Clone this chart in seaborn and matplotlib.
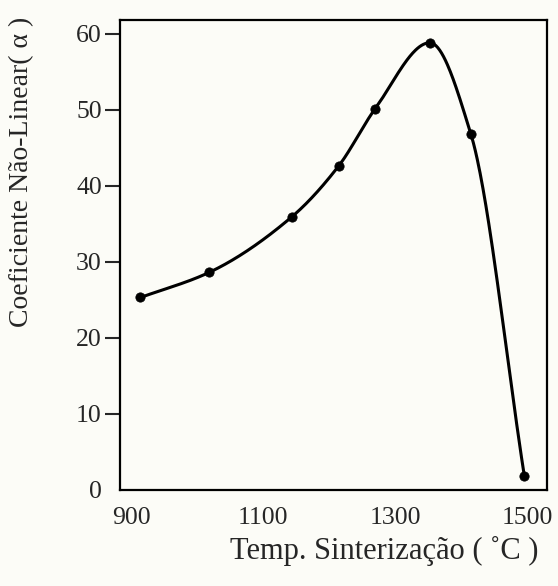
import numpy as np
import pandas as pd
import matplotlib
matplotlib.use("Agg")
import matplotlib.pyplot as plt
import seaborn as sns

# dados
temperaturas = [914, 1018, 1143, 1214, 1269, 1352, 1414, 1495]
coeficientes = [25.3, 28.6, 35.9, 42.6, 50.1, 58.8, 46.8, 1.8]
yticks = [0, 10, 20, 30, 40, 50, 60]
xticks = [900, 1100, 1300, 1500]


def pchip(x, y, xs):
    # interpolação cúbica monotônica (tipo PCHIP) só para desenhar a curva suave
    x = np.asarray(x, float)
    y = np.asarray(y, float)
    h = np.diff(x)
    d = np.diff(y) / h
    n = len(x)
    m = np.zeros(n)
    for k in range(1, n - 1):
        if d[k - 1] * d[k] > 0:
            w1 = 2 * h[k] + h[k - 1]
            w2 = h[k] + 2 * h[k - 1]
            m[k] = (w1 + w2) / (w1 / d[k - 1] + w2 / d[k])
    m[0] = d[0]
    m[-1] = d[-1]
    idx = np.clip(np.searchsorted(x, xs) - 1, 0, n - 2)
    t = (xs - x[idx]) / h[idx]
    h00 = 2 * t**3 - 3 * t**2 + 1
    h10 = t**3 - 2 * t**2 + t
    h01 = -2 * t**3 + 3 * t**2
    h11 = t**3 - t**2
    return (h00 * y[idx] + h10 * h[idx] * m[idx] + h01 * y[idx + 1]
            + h11 * h[idx] * m[idx + 1])


df = pd.DataFrame({"temp": temperaturas, "alfa": coeficientes})
xs = np.linspace(temperaturas[0], temperaturas[-1], 400)
curva = pd.DataFrame({"temp": xs, "alfa": pchip(temperaturas, coeficientes, xs)})

sns.set_style("white")
plt.rcParams["font.family"] = ["Liberation Serif", "DejaVu Serif"]

fig = plt.figure(figsize=(5.58, 5.86), dpi=100, facecolor="#fcfcf7")
ax = fig.add_axes([0.215, 0.164, 0.765, 0.802])
ax.set_facecolor("#fcfcf7")

sns.lineplot(data=curva, x="temp", y="alfa", color="black", linewidth=2.2, ax=ax)
sns.scatterplot(data=df, x="temp", y="alfa", color="black", s=45,
                edgecolor="black", zorder=3, ax=ax)

ax.set_xlim(883, 1529)
ax.set_ylim(0, 61.8)
ax.set_xticks(xticks)
ax.set_yticks(yticks)
ax.tick_params(axis="x", length=0, pad=12, labelsize=18.5)
ax.tick_params(axis="y", direction="out", length=11, width=1.5, pad=2,
               labelsize=18.5, left=True)
ax.yaxis.get_major_ticks()[0].tick1line.set_visible(False)

for s in ax.spines.values():
    s.set_linewidth(1.6)
    s.set_color("black")

ax.set_xlabel("Temp. Sinterização ( ˚C )", fontsize=22)
ax.set_ylabel("Coeficiente Não-Linear( α )", fontsize=20)
ax.xaxis.set_label_coords(0.618, -0.098)
ax.yaxis.set_label_coords(-0.20, 0.677)

fig.savefig("out.png", dpi=100, facecolor=fig.get_facecolor())
